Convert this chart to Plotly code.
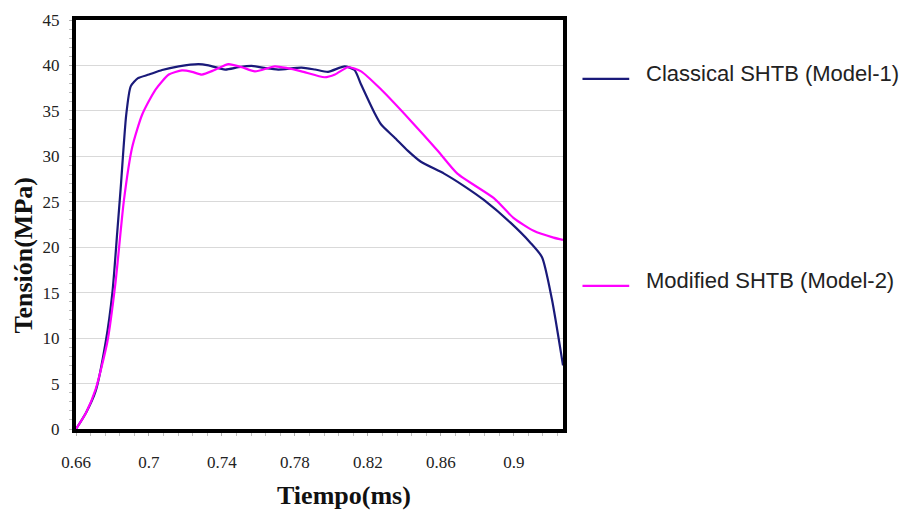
import plotly.graph_objects as go

# Stress–time records of the two SHTB models
t_model1 = [0.660, 0.6655, 0.6708, 0.6763, 0.680, 0.6826, 0.6845, 0.6875, 0.690, 0.694,
            0.700, 0.7072, 0.7163, 0.7272, 0.7327, 0.7418, 0.7490, 0.7563, 0.7640, 0.7709,
            0.7836, 0.7910, 0.7982, 0.8072, 0.8127, 0.8163, 0.8236, 0.8273, 0.8345, 0.8420,
            0.8491, 0.8618, 0.8730, 0.8836, 0.8982, 0.9091, 0.9155, 0.9209, 0.9270]
s_model1 = [0.0, 1.8, 4.2, 9.6, 15.1, 21.6, 26.5, 34.5, 37.7, 38.6,
            39.0, 39.5, 39.9, 40.15, 40.0, 39.55, 39.8, 39.95, 39.7, 39.55,
            39.75, 39.55, 39.3, 39.9, 39.5, 37.9, 34.8, 33.5, 32.1, 30.6,
            29.4, 28.1, 26.7, 25.2, 22.7, 20.5, 18.9, 14.3, 7.0]

t_model2 = [0.660, 0.6655, 0.6708, 0.6772, 0.6817, 0.6863, 0.6908, 0.6963, 0.7036, 0.7109,
            0.7181, 0.7236, 0.7290, 0.7360, 0.7436, 0.7510, 0.7581, 0.7690, 0.7760, 0.7836,
            0.7963, 0.8020, 0.8091, 0.8163, 0.8273, 0.8436, 0.8582, 0.8691, 0.8891, 0.9000,
            0.9109, 0.9218, 0.9270]
s_model2 = [0.0, 1.8, 4.4, 9.6, 16.2, 25.2, 31.0, 34.6, 37.35, 39.0,
            39.45, 39.3, 39.0, 39.5, 40.15, 39.8, 39.35, 39.9, 39.7, 39.35,
            38.7, 39.0, 39.8, 39.35, 37.35, 33.9, 30.65, 28.1, 25.4, 23.2,
            21.8, 21.05, 20.8]

name_model1 = "Classical SHTB (Model-1)"
name_model2 = "Modified SHTB (Model-2)"
color_model1 = "#1a1a7a"
color_model2 = "#ff00ff"

x_title = "Tiempo(ms)"
y_title = "Tensión(MPa)"
x_ticks = [0.66, 0.7, 0.74, 0.78, 0.82, 0.86, 0.9]
x_ticktext = ["0.66", "0.7", "0.74", "0.78", "0.82", "0.86", "0.9"]

fig = go.Figure()
fig.add_trace(go.Scatter(x=t_model1, y=s_model1, mode="lines", name=name_model1,
                         line=dict(color=color_model1, width=2.2, shape="spline", smoothing=0.6)))
fig.add_trace(go.Scatter(x=t_model2, y=s_model2, mode="lines", name=name_model2,
                         line=dict(color=color_model2, width=2.2, shape="spline", smoothing=0.6)))

serif = "Liberation Serif"
key_font = dict(family="Liberation Sans", size=22, color="#222222")

# Key entries placed to the right of the plot frame, one beside each curve's level
keys = [(name_model1, color_model1, 0.856), (name_model2, color_model2, 0.350)]
shapes = []
key_notes = []
for label, color, ypos in keys:
    shapes.append(dict(type="line", xref="paper", yref="paper",
                       x0=1.04, x1=1.136, y0=ypos, y1=ypos,
                       line=dict(color=color, width=2.2)))
    key_notes.append(dict(text=label, xref="paper", yref="paper", x=1.166, y=ypos + 0.014,
                          xanchor="left", yanchor="middle", showarrow=False, font=key_font))

fig.update_layout(
    width=912, height=512,
    margin=dict(l=76, r=349, t=20, b=83),
    paper_bgcolor="white", plot_bgcolor="white",
    showlegend=False,
    shapes=shapes,
    xaxis=dict(
        range=[0.66, 0.927], tickvals=x_ticks, ticktext=x_ticktext,
        showgrid=False, zeroline=False,
        showline=True, linecolor="black", linewidth=4, mirror=True,
        ticks="outside", ticklen=3, tickcolor="#b0b0b0", tickwidth=1,
        tickfont=dict(family=serif, size=17, color="#222222"),
        ticklabelstandoff=12,
        minor=dict(dtick=0.008, tick0=0.66, ticks="outside", ticklen=3,
                   tickcolor="#c0c0c0", showgrid=False),
    ),
    yaxis=dict(
        range=[0, 45], dtick=5, tick0=0,
        showgrid=True, gridcolor="#d9d9d9", gridwidth=1, zeroline=False,
        showline=True, linecolor="black", linewidth=4, mirror=True,
        ticks="outside", ticklen=3, tickcolor="#b0b0b0", tickwidth=1,
        tickfont=dict(family=serif, size=17, color="#222222"),
        ticklabelstandoff=6,
        minor=dict(dtick=1, tick0=0, ticks="outside", ticklen=3,
                   tickcolor="#c0c0c0", showgrid=False),
    ),
    annotations=[
        dict(text=x_title, xref="paper", yref="paper", x=0.55, y=-0.162,
             xanchor="center", yanchor="middle", showarrow=False,
             font=dict(family=serif, size=26, color="#111111", weight="bold")),
        dict(text=y_title, xref="paper", yref="paper", x=-0.108, y=0.425,
             xanchor="center", yanchor="middle", showarrow=False, textangle=-90,
             font=dict(family=serif, size=26, color="#111111", weight="bold")),
    ] + key_notes,
)

fig.write_html("out.html")
